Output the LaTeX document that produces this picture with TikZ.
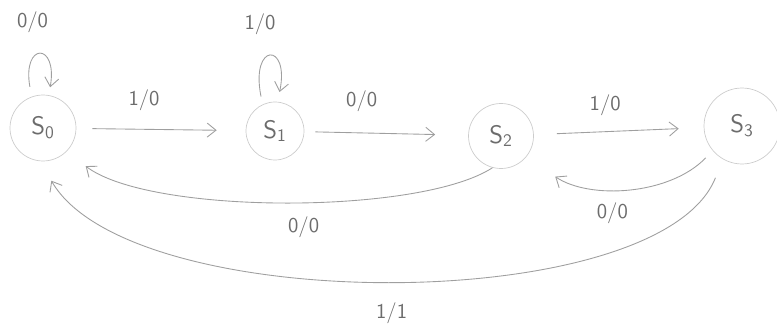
\documentclass[tikz,border=0pt]{standalone}
\usetikzlibrary{arrows.meta}
\begin{document}
\begin{tikzpicture}[x=0.02cm,y=-0.02cm,font=\sffamily,
  >={Straight Barb[length=5pt,width=8pt]},
  state/.style={draw=gray!40,circle,inner sep=0pt,text=gray!85!black,font=\sffamily\Large},
  trans/.style={->,draw=gray!75,line width=0.5pt},
  lab/.style={text=gray!85!black,font=\sffamily\large}]
\useasboundingbox (0,0) rectangle (777,324);
% states
\node[state,minimum size=1.32cm] (s0) at (43,128) {S\textsubscript{0}};
\node[state,minimum size=1.16cm] (s1) at (275,131) {S\textsubscript{1}};
\node[state,minimum size=1.3cm] (s2) at (501,136) {S\textsubscript{2}};
\node[state,minimum size=1.52cm] (s3) at (742,126) {S\textsubscript{3}};
% self loops
\draw[trans,shorten <=0.2cm,shorten >=0.16cm] (s0.110) .. controls (22,42) and (58,42) .. (s0.80)
  node[lab,midway,above=0.33cm,xshift=-0.15cm] (l00) {0/0};
\draw[trans,shorten <=0.16cm,shorten >=0.2cm] (s1.115) .. controls (250,42) and (290,42) .. (s1.85)
  node[lab,midway,above=0.33cm,xshift=-0.2cm] (l11) {1/0};
% forward
\draw[trans,shorten <=0.32cm,shorten >=0.58cm] (s0) -- (s1) node[lab,pos=0.4,above=0.25cm] (l01) {1/0};
\draw[trans,shorten <=0.22cm,shorten >=0.66cm] (s1) -- (s2) node[lab,pos=0.35,above=0.3cm] (l12) {0/0};
\draw[trans,shorten <=0.46cm,shorten >=0.5cm] (s2) -- (s3) node[lab,pos=0.42,above=0.2cm] (l23) {1/0};
% back
\draw[trans,shorten >=0.48cm] (s2.-105) .. controls (420,215) and (150,215) .. (s0.-45)
  node[lab,midway,below=0.18cm,xshift=0.4cm] (l20) {0/0};
\draw[trans,shorten <=0.2cm,shorten >=0.7cm] (s3.-140) .. controls (670,195) and (590,200) .. (s2.-40)
  node[lab,midway,below=0.2cm,xshift=-0.3cm] (l32) {0/0};
\draw[trans,shorten <=0.4cm,shorten >=0.45cm] (s3.-120) .. controls (660,317) and (130,317) .. (s0.-95)
  node[lab,midway,below=0.38cm] (l30) {1/1};
\end{tikzpicture}
\end{document}
